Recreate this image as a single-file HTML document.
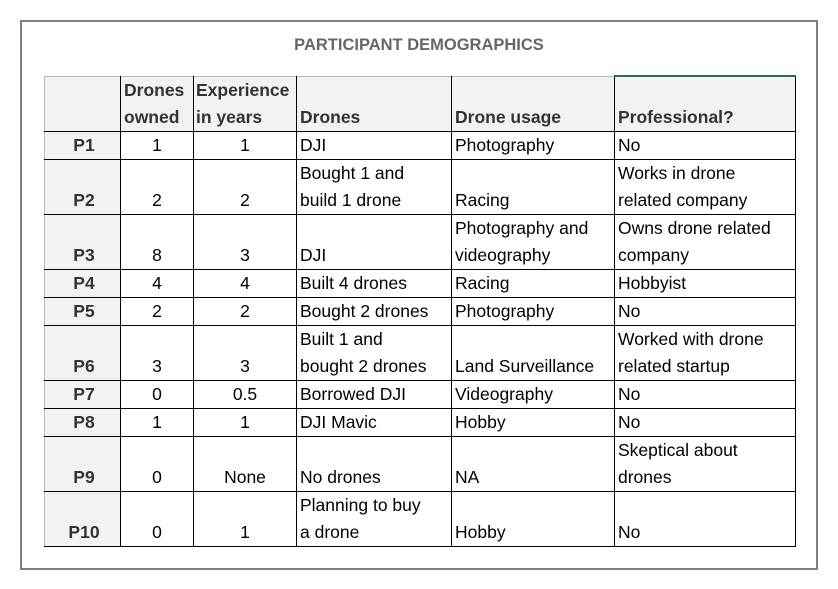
<!DOCTYPE html>
<html><head><meta charset="utf-8"><style>
body{margin:0;background:#fff;width:838px;height:589px;position:relative;font-family:"Liberation Sans",sans-serif;}
#frame{position:absolute;left:20px;top:20px;width:794px;height:546px;border:2px solid #7f7f7f;box-sizing:content-box;}
#title{position:absolute;left:0;top:36px;width:838px;text-align:center;font-weight:bold;font-size:16.5px;color:#666;}
table{position:absolute;left:44px;top:75px;border-collapse:collapse;table-layout:fixed;font-size:17.5px;color:#000;}
td{border:1px solid #000;padding:0 0 0 3px;vertical-align:bottom;line-height:27px;white-space:nowrap;overflow:hidden;}
tr.h td{background:#f2f2f2;font-weight:bold;color:#333;border-top:1px solid #bbb;line-height:27px;}
tr.h td.first{border-left:1px solid #bbb}
td.p{background:#f2f2f2;font-weight:bold;color:#333;text-align:center;border-left:1px solid #bbb;}
td.c{text-align:center;padding-left:0}
tr.s td{height:27px}
tr.d td{height:54px}
</style></head><body>
<div id="frame"></div>
<div id="title">PARTICIPANT DEMOGRAPHICS</div>
<table>
<colgroup><col style="width:76px"><col style="width:73px"><col style="width:103px"><col style="width:155px"><col style="width:163px"><col style="width:181px"></colgroup>
<tr class="h d"><td class="first"></td><td>Drones<br>owned</td><td style="padding-left:2px">Experience<br>in years</td><td>Drones</td><td>Drone usage</td><td style="border-top:2px solid #217346">Professional?</td></tr>
<tr class="s"><td class="p">P1</td><td class="c">1</td><td class="c">1</td><td>DJI</td><td>Photography</td><td>No</td></tr>
<tr class="d"><td class="p">P2</td><td class="c">2</td><td class="c">2</td><td>Bought 1 and<br>build 1 drone</td><td>Racing</td><td>Works in drone<br>related company</td></tr>
<tr class="d"><td class="p">P3</td><td class="c">8</td><td class="c">3</td><td>DJI</td><td>Photography and<br>videography</td><td>Owns drone related<br>company</td></tr>
<tr class="s"><td class="p">P4</td><td class="c">4</td><td class="c">4</td><td>Built 4 drones</td><td>Racing</td><td>Hobbyist</td></tr>
<tr class="s"><td class="p">P5</td><td class="c">2</td><td class="c">2</td><td>Bought 2 drones</td><td>Photography</td><td>No</td></tr>
<tr class="d"><td class="p">P6</td><td class="c">3</td><td class="c">3</td><td>Built 1 and<br>bought 2 drones</td><td>Land Surveillance</td><td>Worked with drone<br>related startup</td></tr>
<tr class="s"><td class="p">P7</td><td class="c">0</td><td class="c">0.5</td><td>Borrowed DJI</td><td>Videography</td><td>No</td></tr>
<tr class="s"><td class="p">P8</td><td class="c">1</td><td class="c">1</td><td>DJI Mavic</td><td>Hobby</td><td>No</td></tr>
<tr class="d"><td class="p">P9</td><td class="c">0</td><td class="c">None</td><td>No drones</td><td>NA</td><td>Skeptical about<br>drones</td></tr>
<tr class="d"><td class="p">P10</td><td class="c">0</td><td class="c">1</td><td>Planning to buy<br>a drone</td><td>Hobby</td><td>No</td></tr>
</table>
</body></html>
